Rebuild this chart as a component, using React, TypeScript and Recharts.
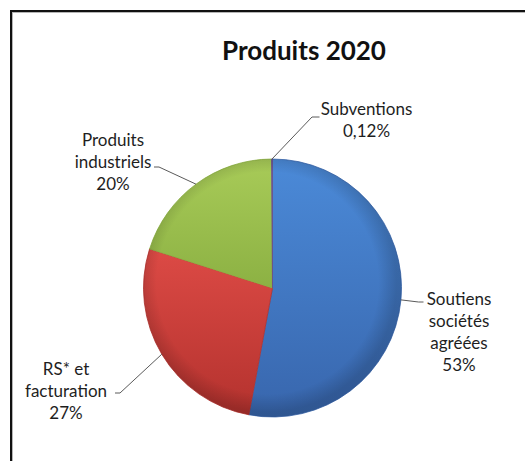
import { PieChart, Pie, Cell } from 'recharts';

// Produits 2020 — share of income by source
const categories = ['Soutiens sociétés agréées', 'RS* et facturation', 'Produits industriels', 'Subventions'];
const shares = [53, 27, 20, 0.12];
const shareLabels = ['53%', '27%', '20%', '0,12%'];
const labelLines = [['Soutiens', 'sociétés', 'agréées'], ['RS* et', 'facturation'], ['Produits', 'industriels'], ['Subventions']];

const lightColors = ['#4b8ad8', '#dc4a45', '#a8cb58', '#8a6cb0'];
const darkColors = ['#3866ad', '#b4322e', '#8cb143', '#6a4f8e'];

const CX = 267.5;
const CY = 283;
const R = 129;
const FONT = 'Lato, "Open Sans", sans-serif';
const LINE_H = 22;

// leader elbow / end and text block position, relative to the pie centre
const labelLayout = [
  { elbow: [146, 14], end: [151, 14], tx: 186.5, ty: 10 },
  { elbow: [-152.5, 105], end: [-157.5, 105], tx: -206.5, ty: 80 },
  { elbow: [-113.5, -121], end: [-118.5, -121], tx: -159.5, ty: -149 },
  { elbow: [39.5, -171], end: [47, -171], tx: 94, ty: -180 },
];

const data = categories.map((name, i) => ({ name, value: shares[i] }));

const RAD = Math.PI / 180;

function renderLabel(props: any) {
  const { cx, cy, midAngle, outerRadius, index } = props;
  const lay = labelLayout[index];
  const sx = cx + outerRadius * Math.cos(-midAngle * RAD);
  const sy = cy + outerRadius * Math.sin(-midAngle * RAD);
  const lines = [...labelLines[index], shareLabels[index]];
  return (
    <g key={`lbl-${index}`}>
      <polyline
        points={`${sx},${sy} ${cx + lay.elbow[0]},${cy + lay.elbow[1]} ${cx + lay.end[0]},${cy + lay.end[1]}`}
        fill="none"
        stroke="#5a5a5a"
        strokeWidth={1}
      />
      {lines.map((t, k) => (
        <text
          key={k}
          x={cx + lay.tx}
          y={cy + lay.ty + k * LINE_H}
          textAnchor="middle"
          dominantBaseline="central"
          fontFamily={FONT}
          fontSize={17}
          fill="#1e1e1e"
        >
          {t}
        </text>
      ))}
    </g>
  );
}

export default function App() {
  return (
    <div style={{ position: 'absolute', left: 0, top: 0, width: 525, height: 461, overflow: 'hidden', background: '#fff' }}>
      <div
        style={{
          position: 'absolute',
          left: 10,
          top: 10,
          width: 540,
          height: 480,
          borderTop: '2px solid #111',
          borderLeft: '2px solid #111',
          boxShadow: 'inset 1px 1px 0 #b5b5b5',
        }}
      />
      <div
        style={{
          position: 'absolute',
          left: 184,
          top: 37,
          width: 240,
          textAlign: 'center',
          fontFamily: FONT,
          fontWeight: 700,
          fontSize: 26,
          lineHeight: '26px',
          color: '#111',
        }}
      >
        Produits 2020
      </div>
      <div style={{ position: 'absolute', left: 0, top: 0 }}>
        <PieChart width={525} height={461}>
          <defs>
            {lightColors.map((c, i) => (
              <linearGradient key={i} id={`g${i}`} x1="0" y1="0" x2="0" y2="1">
                <stop offset="0%" stopColor={c} />
                <stop offset="100%" stopColor={darkColors[i]} />
              </linearGradient>
            ))}
            <radialGradient id="rim" gradientUnits="userSpaceOnUse" cx={CX} cy={CY} r={R}>
              <stop offset="86%" stopColor="#000" stopOpacity={0} />
              <stop offset="100%" stopColor="#000" stopOpacity={0.16} />
            </radialGradient>
          </defs>
          <Pie
            data={data}
            dataKey="value"
            nameKey="name"
            cx={CX}
            cy={CY}
            outerRadius={R}
            startAngle={90}
            endAngle={-270}
            stroke="none"
            label={renderLabel}
            labelLine={false}
            isAnimationActive={false}
          >
            {data.map((d, i) => (
              <Cell key={d.name} fill={`url(#g${i})`} stroke={darkColors[i]} strokeWidth={0.8} />
            ))}
          </Pie>
          <Pie
            data={data}
            dataKey="value"
            cx={CX}
            cy={CY}
            outerRadius={R}
            startAngle={90}
            endAngle={-270}
            fill="url(#rim)"
            stroke="none"
            isAnimationActive={false}
          />
        </PieChart>
      </div>
    </div>
  );
}
